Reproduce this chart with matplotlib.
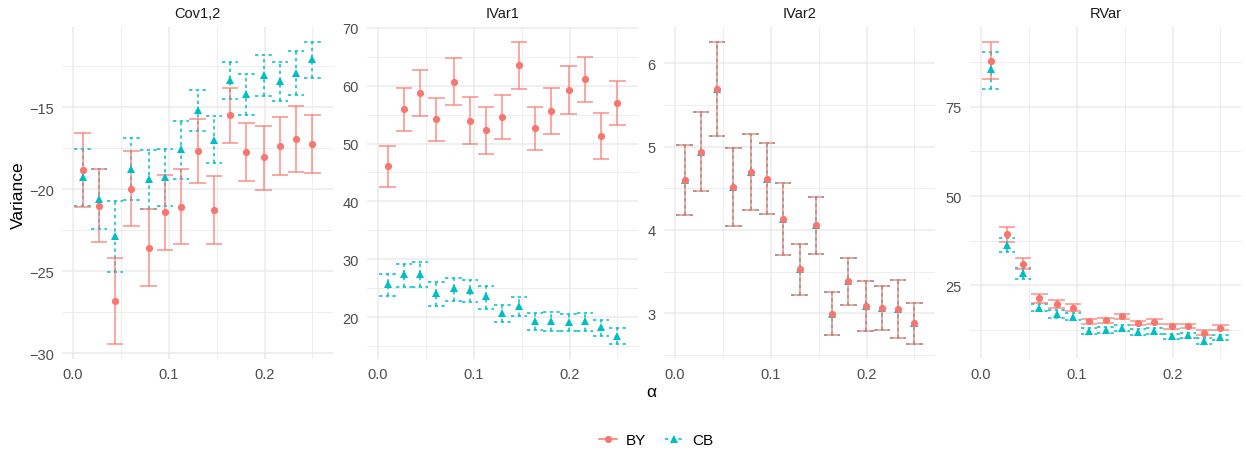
import numpy as np
import matplotlib
matplotlib.use('Agg')
from matplotlib import pyplot as plt
from matplotlib.lines import Line2D
from matplotlib.ticker import MultipleLocator

plt.rcParams['font.family'] = ['Liberation Sans', 'DejaVu Sans']

# alpha levels on the x axis
alpha = [0.010, 0.027, 0.044, 0.061, 0.079, 0.096, 0.113, 0.130,
         0.147, 0.164, 0.181, 0.199, 0.216, 0.233, 0.250]

panels = ['Cov1,2', 'IVar1', 'IVar2', 'RVar']
series = ['BY', 'CB']

# Cov1,2
cov_by = [-18.84, -21.0, -26.79, -19.98, -23.56, -21.42, -21.08, -17.68,
          -21.28, -15.51, -17.74, -18.07, -17.38, -16.93, -17.24]
cov_by_lo = [-21.08, -23.25, -29.43, -22.26, -25.89, -23.68, -23.35, -19.63,
             -23.37, -17.20, -19.51, -20.04, -19.15, -18.94, -19.02]
cov_by_hi = [-16.6, -18.76, -24.17, -17.70, -21.22, -19.15, -18.78, -15.73,
             -19.21, -13.82, -16.0, -16.14, -15.61, -14.94, -15.47]
cov_cb = [-19.27, -20.59, -22.83, -18.76, -19.37, -19.27, -17.58, -15.20,
          -16.99, -13.37, -14.19, -13.03, -13.41, -12.91, -12.09]
cov_cb_lo = [-21.02, -22.42, -25.02, -20.69, -21.20, -21.02, -19.37, -16.46,
             -18.41, -14.49, -15.49, -14.33, -14.61, -14.27, -13.21]
cov_cb_hi = [-17.58, -18.76, -20.71, -16.91, -17.64, -17.58, -15.83, -13.98,
             -15.55, -12.26, -12.97, -11.85, -12.24, -11.61, -11.04]

# IVar1
iv1_by = [46.07, 55.93, 58.75, 54.2, 60.71, 53.97, 52.3, 54.54,
          63.48, 52.64, 55.64, 59.16, 61.06, 51.37, 57.02]
iv1_by_lo = [42.55, 52.24, 54.83, 50.51, 56.62, 49.99, 48.14, 50.74,
             59.45, 48.95, 51.66, 55.06, 57.25, 47.39, 53.28]
iv1_by_hi = [49.6, 59.62, 62.73, 57.83, 64.75, 57.95, 56.39, 58.35,
             67.52, 56.39, 59.56, 63.31, 64.92, 55.35, 60.83]
iv1_cb = [25.76, 27.38, 27.38, 24.26, 25.01, 24.72, 23.63, 20.74,
          22.01, 19.30, 19.30, 19.24, 19.30, 18.26, 16.82]
iv1_cb_lo = [23.63, 25.18, 25.18, 22.01, 22.82, 22.65, 21.44, 19.24,
             20.17, 17.8, 17.63, 17.63, 17.63, 16.7, 15.38]
iv1_cb_hi = [27.49, 29.16, 29.5, 26.05, 26.8, 26.45, 25.47, 22.18,
             23.46, 20.69, 20.86, 20.57, 20.69, 19.59, 18.09]

# IVar2 (both methods give the same intervals)
iv2_by = [4.604, 4.94, 5.69, 4.52, 4.70, 4.616, 4.131, 3.529,
          4.055, 2.996, 3.381, 3.084, 3.064, 3.052, 2.879]
iv2_by_lo = [4.183, 4.472, 5.134, 4.047, 4.243, 4.187, 3.702, 3.224,
             3.714, 2.739, 3.104, 2.783, 2.799, 2.703, 2.631]
iv2_by_hi = [5.017, 5.414, 6.257, 4.989, 5.158, 5.045, 4.56, 3.834,
             4.396, 3.252, 3.661, 3.381, 3.329, 3.401, 3.128]
iv2_cb = list(iv2_by)
iv2_cb_lo = list(iv2_by_lo)
iv2_cb_hi = list(iv2_by_hi)

# RVar
rv_by = [88.0, 39.33, 31.0, 21.25, 19.66, 18.7, 14.8, 15.1,
         16.3, 14.3, 14.6, 13.5, 13.6, 11.6, 13.1]
rv_by_lo = [82.8, 37.2, 29.5, 20.0, 18.7, 17.8, 14.0, 14.3,
            15.5, 13.7, 13.95, 12.8, 12.9, 10.95, 12.5]
rv_by_hi = [93.2, 41.3, 32.6, 22.5, 20.7, 19.7, 15.5, 15.8,
            17.0, 15.0, 15.35, 14.1, 14.2, 12.3, 13.7]
rv_cb = [85.6, 36.2, 28.3, 18.6, 16.85, 16.1, 12.2, 12.45,
         12.9, 11.9, 12.1, 10.7, 10.95, 9.4, 10.3]
rv_cb_lo = [80.1, 34.2, 26.7, 17.6, 15.9, 15.2, 11.3, 11.6,
            12.1, 11.05, 11.2, 9.8, 10.1, 8.5, 9.5]
rv_cb_hi = [90.4, 38.3, 29.9, 19.7, 17.9, 17.1, 13.0, 13.3,
            13.8, 12.7, 12.9, 11.4, 11.7, 10.1, 11.05]

by_data = [(cov_by, cov_by_lo, cov_by_hi), (iv1_by, iv1_by_lo, iv1_by_hi),
           (iv2_by, iv2_by_lo, iv2_by_hi), (rv_by, rv_by_lo, rv_by_hi)]
cb_data = [(cov_cb, cov_cb_lo, cov_cb_hi), (iv1_cb, iv1_cb_lo, iv1_cb_hi),
           (iv2_cb, iv2_cb_lo, iv2_cb_hi), (rv_cb, rv_cb_lo, rv_cb_hi)]

y_major = [5, 10, 1, 25]

RED = '#F8766D'
TEAL = '#00BFC4'
GRID = '#EBEBEB'
cap_w = 0.0171
dash = (0, (2.2, 2.2))

W, H = 1246, 452
fig = plt.figure(figsize=(W / 100, H / 100), dpi=100)

lefts = [62, 367, 664, 970]
pw, top, bottom = 271, 28, 360

x = np.array(alpha)


def draw(ax, vals, color, ls, marker, a):
    y, lo, hi = vals
    ax.vlines(x, lo, hi, color=color, ls=ls, lw=1.1, alpha=a, zorder=3)
    ax.hlines(lo, x - cap_w / 2, x + cap_w / 2, color=color, ls=ls, lw=1.1, alpha=a, zorder=3)
    ax.hlines(hi, x - cap_w / 2, x + cap_w / 2, color=color, ls=ls, lw=1.1, alpha=a, zorder=3)
    ax.plot(x, y, ls='none', marker=marker, color=color, ms=5.2 if marker == 'o' else 5.6,
            markeredgewidth=0, zorder=4)


for i, name in enumerate(panels):
    ax = fig.add_axes([lefts[i] / W, 1 - bottom / H, pw / W, (bottom - top) / H])
    draw(ax, cb_data[i], TEAL, dash, '^', 1.0)
    draw(ax, by_data[i], RED, '-', 'o', 0.8)
    ax.margins(x=0.05, y=0.05)
    ax.xaxis.set_major_locator(MultipleLocator(0.1))
    ax.xaxis.set_minor_locator(MultipleLocator(0.05))
    ax.yaxis.set_major_locator(MultipleLocator(y_major[i]))
    ax.yaxis.set_minor_locator(MultipleLocator(y_major[i] / 2))
    ax.xaxis.set_major_formatter(matplotlib.ticker.FormatStrFormatter('%.1f'))
    ax.grid(which='major', color=GRID, lw=1.1, zorder=0)
    ax.grid(which='minor', color=GRID, lw=0.6, zorder=0)
    ax.set_axisbelow(True)
    for s in ax.spines.values():
        s.set_visible(False)
    ax.tick_params(which='both', length=0, labelsize=10.5, labelcolor='#4D4D4D')
    ax.tick_params(axis='y', pad=6)
    ax.tick_params(axis='x', pad=6)
    ax.set_title(name, fontsize=10.5, color='#1A1A1A', pad=7)

fig.text(18 / W, 1 - 195 / H, 'Variance', rotation=90, ha='center', va='center', fontsize=12.5)
fig.text(651 / W, 1 - 393 / H, 'α', ha='center', va='center', fontsize=12.5)

handles = [Line2D([], [], color=RED, marker='o', ms=5.2, mew=0, lw=1.1),
           Line2D([], [], color=TEAL, marker='^', ms=5.6, mew=0, lw=1.1, ls=dash)]
fig.legend(handles, series, loc='center', bbox_to_anchor=(656 / W, 1 - 441 / H), ncol=2,
           frameon=False, fontsize=11, handlelength=1.2, handletextpad=0.6, columnspacing=1.2)

plt.savefig('out.png', dpi=100)
